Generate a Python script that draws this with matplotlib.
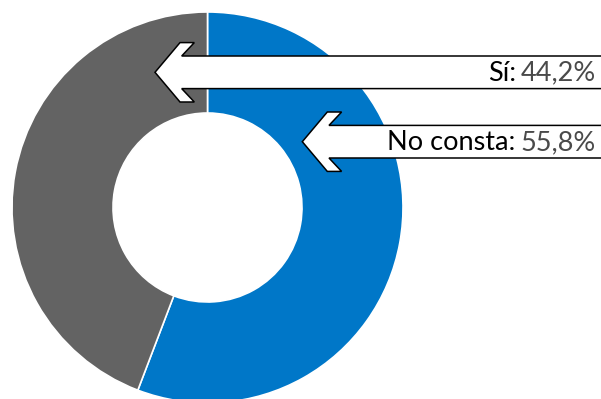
import matplotlib
matplotlib.use('Agg')
import matplotlib.pyplot as plt
from matplotlib.patches import Polygon

# data
labels = ['No consta', 'Sí']
values = [55.8, 44.2]
value_labels = ['55,8%', '44,2%']
colors = ['#0077c8', '#636363']

W, H = 601, 399
fig = plt.figure(figsize=(W / 100, H / 100), dpi=100)
ax = fig.add_axes([0, 0, 1, 1])

cx, cy = 207.5, H - 207.5
r_out, r_in = 195.5, 94.5
ax.pie(values, colors=colors, startangle=90, counterclock=False,
       center=(cx, cy), radius=r_out,
       wedgeprops=dict(width=r_out - r_in, edgecolor='white', linewidth=1.2))

ax.set_xlim(0, W)
ax.set_ylim(0, H)
ax.set_aspect('equal')
ax.axis('off')


def callout(ax, tip_x, tip_y, label, value):
    # white arrow pointing left, shaft running off the right edge
    head_h, shaft_h = 29.7, 16.3
    pts = [(0, 0), (25, head_h), (39.3, head_h), (26.7, shaft_h), (W + 20, shaft_h),
           (W + 20, -shaft_h), (26.7, -shaft_h), (39.3, -head_h), (25, -head_h)]
    y = H - tip_y
    poly = Polygon([(tip_x + px, y + py) for px, py in pts], closed=True,
                   facecolor='white', edgecolor='black', linewidth=1.1, zorder=5)
    ax.add_patch(poly)
    t_val = ax.text(596, y - 1, value, ha='right', va='center', fontsize=19.5,
                    family='Lato', fontweight='normal', color='#4a4a4a', zorder=6)
    fig.canvas.draw()
    bb = t_val.get_window_extent()
    ax.text(bb.x0 - 5, y - 1, label + ':', ha='right', va='center', fontsize=19.5,
            family='Lato', fontweight='normal', color='black', zorder=6)


callout(ax, 155, 72.3, labels[1], value_labels[1])
callout(ax, 302.3, 141.7, labels[0], value_labels[0])

fig.savefig('out.png', dpi=100)
